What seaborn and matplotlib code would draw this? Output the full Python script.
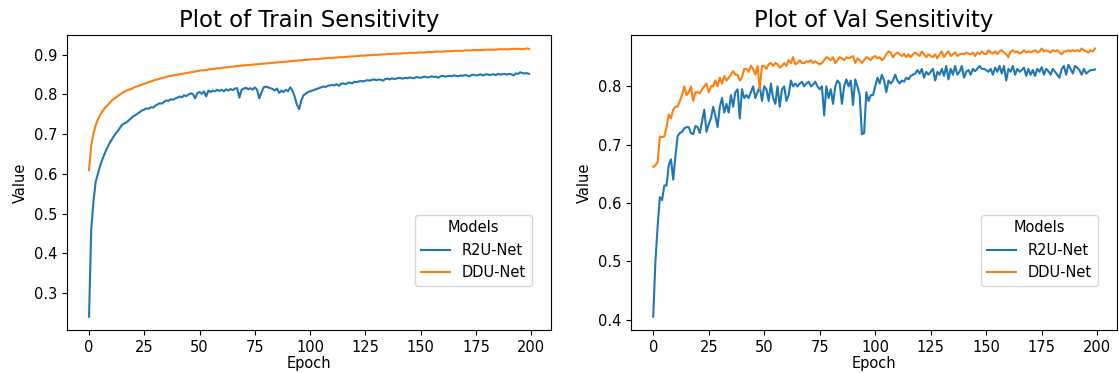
import matplotlib
matplotlib.use("Agg")
import matplotlib.pyplot as plt
import numpy as np
import pandas as pd
import seaborn as sns

epochs = list(range(200))
models = ["R2U-Net", "DDU-Net"]

train_r2u = [
    0.240, 0.460, 0.530, 0.580, 0.600, 0.620, 0.636, 0.650, 0.663, 0.674,
    0.684, 0.693, 0.701, 0.708, 0.716, 0.724, 0.727, 0.730, 0.735, 0.740,
    0.745, 0.748, 0.752, 0.756, 0.760, 0.762, 0.765, 0.764, 0.768, 0.767,
    0.772, 0.775, 0.778, 0.777, 0.782, 0.785, 0.784, 0.788, 0.787, 0.790,
    0.792, 0.795, 0.793, 0.798, 0.796, 0.800, 0.803, 0.801, 0.790, 0.804,
    0.806, 0.802, 0.808, 0.795, 0.810, 0.806, 0.810, 0.808, 0.812, 0.809,
    0.812, 0.808, 0.813, 0.810, 0.814, 0.811, 0.815, 0.816, 0.792, 0.812,
    0.815, 0.817, 0.813, 0.816, 0.812, 0.818, 0.812, 0.790, 0.805, 0.818,
    0.820, 0.818, 0.816, 0.814, 0.810, 0.815, 0.804, 0.810, 0.806, 0.812,
    0.808, 0.818, 0.810, 0.795, 0.775, 0.763, 0.785, 0.798, 0.802, 0.806,
    0.808, 0.810, 0.812, 0.814, 0.816, 0.818, 0.820, 0.819, 0.822, 0.823,
    0.824, 0.823, 0.826, 0.822, 0.827, 0.828, 0.826, 0.829, 0.830, 0.828,
    0.832, 0.831, 0.833, 0.834, 0.833, 0.835, 0.836, 0.835, 0.837, 0.838,
    0.836, 0.838, 0.837, 0.835, 0.839, 0.840, 0.838, 0.841, 0.839, 0.840,
    0.842, 0.841, 0.840, 0.842, 0.841, 0.843, 0.842, 0.841, 0.844, 0.843,
    0.842, 0.844, 0.845, 0.843, 0.844, 0.846, 0.844, 0.845, 0.842, 0.846,
    0.847, 0.845, 0.846, 0.847, 0.846, 0.848, 0.847, 0.846, 0.848, 0.847,
    0.849, 0.848, 0.846, 0.849, 0.850, 0.848, 0.849, 0.851, 0.848, 0.850,
    0.851, 0.849, 0.850, 0.851, 0.849, 0.852, 0.850, 0.851, 0.852, 0.850,
    0.852, 0.851, 0.848, 0.853, 0.852, 0.856, 0.854, 0.853, 0.854, 0.852,
]

train_ddu = [
    0.610, 0.672, 0.702, 0.722, 0.737, 0.748, 0.757, 0.765, 0.771, 0.777,
    0.783, 0.788, 0.792, 0.796, 0.800, 0.804, 0.807, 0.810, 0.812, 0.814,
    0.817, 0.819, 0.821, 0.823, 0.825, 0.827, 0.829, 0.831, 0.833, 0.835,
    0.837, 0.838, 0.840, 0.841, 0.843, 0.844, 0.846, 0.847, 0.848, 0.849,
    0.850, 0.851, 0.852, 0.853, 0.854, 0.855, 0.856, 0.857, 0.858, 0.859,
    0.860, 0.861, 0.861, 0.862, 0.863, 0.864, 0.864, 0.865, 0.866, 0.866,
    0.867, 0.868, 0.868, 0.869, 0.870, 0.870, 0.871, 0.872, 0.872, 0.873,
    0.873, 0.874, 0.874, 0.875, 0.875, 0.876, 0.876, 0.877, 0.877, 0.878,
    0.878, 0.879, 0.879, 0.880, 0.880, 0.881, 0.881, 0.882, 0.882, 0.883,
    0.883, 0.884, 0.884, 0.885, 0.885, 0.886, 0.886, 0.887, 0.887, 0.888,
    0.888, 0.889, 0.889, 0.889, 0.890, 0.890, 0.891, 0.891, 0.892, 0.892,
    0.892, 0.893, 0.893, 0.894, 0.894, 0.894, 0.895, 0.895, 0.896, 0.896,
    0.896, 0.897, 0.897, 0.898, 0.898, 0.898, 0.899, 0.899, 0.899, 0.900,
    0.900, 0.900, 0.901, 0.901, 0.901, 0.902, 0.902, 0.902, 0.903, 0.903,
    0.903, 0.903, 0.904, 0.904, 0.904, 0.905, 0.905, 0.905, 0.905, 0.906,
    0.906, 0.906, 0.906, 0.907, 0.907, 0.907, 0.907, 0.908, 0.908, 0.908,
    0.908, 0.909, 0.909, 0.909, 0.909, 0.910, 0.910, 0.910, 0.910, 0.910,
    0.911, 0.911, 0.911, 0.911, 0.912, 0.912, 0.912, 0.912, 0.912, 0.913,
    0.913, 0.913, 0.913, 0.913, 0.913, 0.914, 0.914, 0.914, 0.914, 0.914,
    0.914, 0.915, 0.915, 0.915, 0.915, 0.915, 0.914, 0.915, 0.916, 0.915,
]

val_r2u = [
    0.405, 0.500, 0.560, 0.610, 0.605, 0.630, 0.630, 0.665, 0.675, 0.640,
    0.680, 0.715, 0.720, 0.722, 0.728, 0.730, 0.730, 0.720, 0.718, 0.732,
    0.730, 0.720, 0.740, 0.760, 0.722, 0.735, 0.745, 0.765, 0.750, 0.730,
    0.765, 0.780, 0.755, 0.770, 0.755, 0.785, 0.765, 0.790, 0.795, 0.745,
    0.795, 0.780, 0.785, 0.780, 0.790, 0.800, 0.780, 0.790, 0.800, 0.775,
    0.800, 0.795, 0.775, 0.805, 0.780, 0.770, 0.800, 0.765, 0.795, 0.800,
    0.775, 0.785, 0.810, 0.800, 0.805, 0.800, 0.805, 0.808, 0.800, 0.805,
    0.808, 0.800, 0.803, 0.808, 0.800, 0.795, 0.800, 0.750, 0.800, 0.780,
    0.795, 0.770, 0.800, 0.810, 0.805, 0.770, 0.800, 0.812, 0.800, 0.810,
    0.768, 0.812, 0.800, 0.785, 0.718, 0.720, 0.790, 0.775, 0.785, 0.785,
    0.800, 0.815, 0.805, 0.820, 0.810, 0.790, 0.810, 0.805, 0.810, 0.820,
    0.810, 0.805, 0.810, 0.808, 0.815, 0.812, 0.818, 0.820, 0.822, 0.828,
    0.822, 0.830, 0.815, 0.825, 0.820, 0.825, 0.830, 0.810, 0.825, 0.820,
    0.830, 0.818, 0.835, 0.812, 0.830, 0.820, 0.835, 0.820, 0.825, 0.835,
    0.815, 0.825, 0.828, 0.820, 0.830, 0.826, 0.830, 0.835, 0.830, 0.830,
    0.828, 0.825, 0.830, 0.820, 0.832, 0.825, 0.835, 0.822, 0.835, 0.810,
    0.830, 0.825, 0.835, 0.820, 0.830, 0.825, 0.828, 0.832, 0.818, 0.830,
    0.820, 0.828, 0.818, 0.830, 0.825, 0.833, 0.820, 0.830, 0.826, 0.820,
    0.830, 0.825, 0.820, 0.815, 0.830, 0.835, 0.820, 0.837, 0.830, 0.822,
    0.835, 0.832, 0.828, 0.820, 0.830, 0.822, 0.825, 0.828, 0.828, 0.829,
]

val_ddu = [
    0.662, 0.665, 0.670, 0.714, 0.713, 0.714, 0.730, 0.752, 0.745, 0.760,
    0.765, 0.765, 0.775, 0.785, 0.800, 0.785, 0.790, 0.800, 0.775, 0.790,
    0.790, 0.788, 0.795, 0.800, 0.805, 0.790, 0.800, 0.800, 0.810, 0.800,
    0.815, 0.805, 0.818, 0.810, 0.815, 0.820, 0.826, 0.820, 0.820, 0.810,
    0.815, 0.830, 0.830, 0.825, 0.835, 0.830, 0.820, 0.835, 0.795, 0.835,
    0.835, 0.830, 0.838, 0.840, 0.835, 0.840, 0.838, 0.832, 0.835, 0.840,
    0.835, 0.845, 0.840, 0.850, 0.838, 0.840, 0.845, 0.840, 0.840, 0.843,
    0.842, 0.845, 0.840, 0.843, 0.840, 0.838, 0.840, 0.845, 0.850, 0.848,
    0.845, 0.850, 0.840, 0.845, 0.850, 0.848, 0.845, 0.850, 0.848, 0.850,
    0.852, 0.840, 0.848, 0.845, 0.840, 0.845, 0.850, 0.848, 0.845, 0.850,
    0.852, 0.848, 0.850, 0.845, 0.848, 0.855, 0.860, 0.858, 0.850, 0.855,
    0.858, 0.855, 0.852, 0.856, 0.850, 0.855, 0.850, 0.855, 0.858, 0.855,
    0.852, 0.860, 0.855, 0.850, 0.855, 0.852, 0.850, 0.855, 0.848, 0.855,
    0.860, 0.850, 0.856, 0.860, 0.852, 0.855, 0.858, 0.852, 0.855, 0.856,
    0.855, 0.858, 0.856, 0.855, 0.858, 0.852, 0.858, 0.855, 0.860, 0.856,
    0.855, 0.862, 0.858, 0.856, 0.860, 0.855, 0.860, 0.862, 0.858, 0.855,
    0.850, 0.860, 0.862, 0.858, 0.860, 0.856, 0.858, 0.862, 0.858, 0.860,
    0.858, 0.860, 0.862, 0.858, 0.860, 0.865, 0.860, 0.862, 0.860, 0.858,
    0.862, 0.860, 0.862, 0.858, 0.855, 0.860, 0.860, 0.862, 0.860, 0.862,
    0.860, 0.862, 0.860, 0.865, 0.862, 0.860, 0.858, 0.862, 0.860, 0.865,
]


def long_frame(r2u, ddu):
    return pd.DataFrame({
        "Epoch": epochs + epochs,
        "Value": r2u + ddu,
        "Models": [models[0]] * len(r2u) + [models[1]] * len(ddu),
    })


plt.rcParams.update({
    "font.size": 10.5,
    "axes.titlesize": 16.5,
    "axes.labelsize": 10.5,
    "xtick.labelsize": 10.5,
    "ytick.labelsize": 10.5,
    "legend.fontsize": 10.5,
    "legend.title_fontsize": 10.5,
})

fig = plt.figure(figsize=(11.19, 3.73), dpi=100)
ax_train = fig.add_axes([0.0599, 0.115, 0.4325, 0.791])
ax_val = fig.add_axes([0.564, 0.115, 0.4343, 0.791])

panels = [
    (ax_train, long_frame(train_r2u, train_ddu), "Plot of Train Sensitivity"),
    (ax_val, long_frame(val_r2u, val_ddu), "Plot of Val Sensitivity"),
]

for ax, df, title in panels:
    sns.lineplot(data=df, x="Epoch", y="Value", hue="Models", ax=ax)
    ax.set_title(title)
    ax.set_xlabel("Epoch", labelpad=1)
    ax.legend(title="Models", loc="lower right", bbox_to_anchor=(0.96, 0.15), borderaxespad=0)

fig.savefig("out.png", dpi=100)
plt.close(fig)
